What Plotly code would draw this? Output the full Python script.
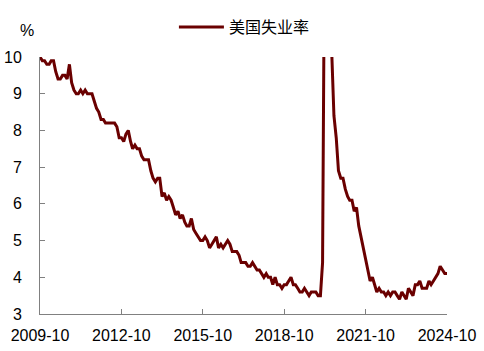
import plotly.graph_objects as go
import pandas as pd

start_month = "2009-10-01"
unemployment = [
    10.0, 9.9, 9.9,
    9.8, 9.8, 9.9, 9.9, 9.6, 9.4, 9.4, 9.5, 9.5, 9.4, 9.8, 9.3,
    9.1, 9.0, 9.0, 9.1, 9.0, 9.1, 9.0, 9.0, 9.0, 8.8, 8.6, 8.5,
    8.3, 8.3, 8.2, 8.2, 8.2, 8.2, 8.2, 8.1, 7.8, 7.8, 7.7, 7.9,
    8.0, 7.7, 7.5, 7.6, 7.5, 7.5, 7.3, 7.2, 7.2, 7.2, 6.9, 6.7,
    6.6, 6.7, 6.7, 6.2, 6.3, 6.1, 6.2, 6.1, 5.9, 5.7, 5.8, 5.6,
    5.7, 5.5, 5.4, 5.4, 5.6, 5.3, 5.2, 5.1, 5.0, 5.0, 5.1, 5.0,
    4.8, 4.9, 5.0, 5.1, 4.8, 4.9, 4.8, 4.9, 5.0, 4.9, 4.7, 4.7,
    4.7, 4.6, 4.4, 4.4, 4.4, 4.3, 4.3, 4.4, 4.3, 4.2, 4.2, 4.1,
    4.0, 4.1, 4.0, 4.0, 3.8, 4.0, 3.8, 3.8, 3.7, 3.8, 3.8, 3.9,
    4.0, 3.8, 3.8, 3.7, 3.6, 3.6, 3.7, 3.6, 3.5, 3.6, 3.6, 3.6,
    3.5, 3.5, 4.4, 14.8, 13.2, 11.0, 10.2, 8.4, 7.8, 6.9, 6.7, 6.7,
    6.4, 6.2, 6.1, 6.1, 5.8, 5.9, 5.4, 5.1, 4.7, 4.5, 4.2, 3.9,
    4.0, 3.8, 3.6, 3.7, 3.6, 3.6, 3.5, 3.6, 3.5, 3.6, 3.6, 3.5,
    3.4, 3.6, 3.5, 3.4, 3.7, 3.6, 3.5, 3.8, 3.8, 3.9, 3.7, 3.7,
    3.7, 3.9, 3.8, 3.9, 4.0, 4.1, 4.3, 4.2, 4.1, 4.1,
]
dates = pd.date_range(start_month, periods=len(unemployment), freq="MS")
x_ticks = ["2009-10-01", "2012-10-01", "2015-10-01", "2018-10-01", "2021-10-01", "2024-10-01"]
x_ticklabels = ["2009-10", "2012-10", "2015-10", "2018-10", "2021-10", "2024-10"]
y_ticks = [3, 4, 5, 6, 7, 8, 9, 10]

fig = go.Figure()
fig.add_trace(go.Scatter(
    x=dates, y=unemployment, mode="lines", name="美国失业率",
    line=dict(color="#6A0000", width=3),
))

font_family = "Liberation Sans, Arial, Noto Sans CJK SC, sans-serif"
fig.update_layout(
    width=484, height=351,
    margin=dict(l=40, r=37, t=57, b=37, autoexpand=False),
    paper_bgcolor="white", plot_bgcolor="white",
    font=dict(family=font_family, size=16, color="#000000"),
    showlegend=True,
    legend=dict(orientation="h", xref="container", x=0.505, xanchor="center",
                yref="container", y=1 - 27 / 351, yanchor="middle",
                itemwidth=45,
                font=dict(size=16), bgcolor="rgba(0,0,0,0)"),
    xaxis=dict(
        range=["2009-10-01", "2024-10-01"],
        tickvals=x_ticks, ticktext=x_ticklabels,
        showgrid=False, zeroline=False, automargin=False,
        showline=True, linecolor="#808080", linewidth=1,
        ticks="inside", ticklen=5, tickcolor="#808080",
        ticklabelstandoff=7,
        tickfont=dict(size=16),
    ),
    yaxis=dict(
        range=[3, 10], tickvals=y_ticks,
        showgrid=False, zeroline=False, automargin=False,
        showline=True, linecolor="#808080", linewidth=1,
        ticks="inside", ticklen=5, tickcolor="#808080",
        ticklabelstandoff=14,
        tickfont=dict(size=16),
    ),
    annotations=[dict(text="%", xref="paper", yref="paper", x=-0.032, y=1.105,
                      xanchor="center", yanchor="middle", showarrow=False,
                      font=dict(size=16))],
)
fig.write_html("out.html", config={"displayModeBar": False},
               post_script="document.body.style.margin='0';")
